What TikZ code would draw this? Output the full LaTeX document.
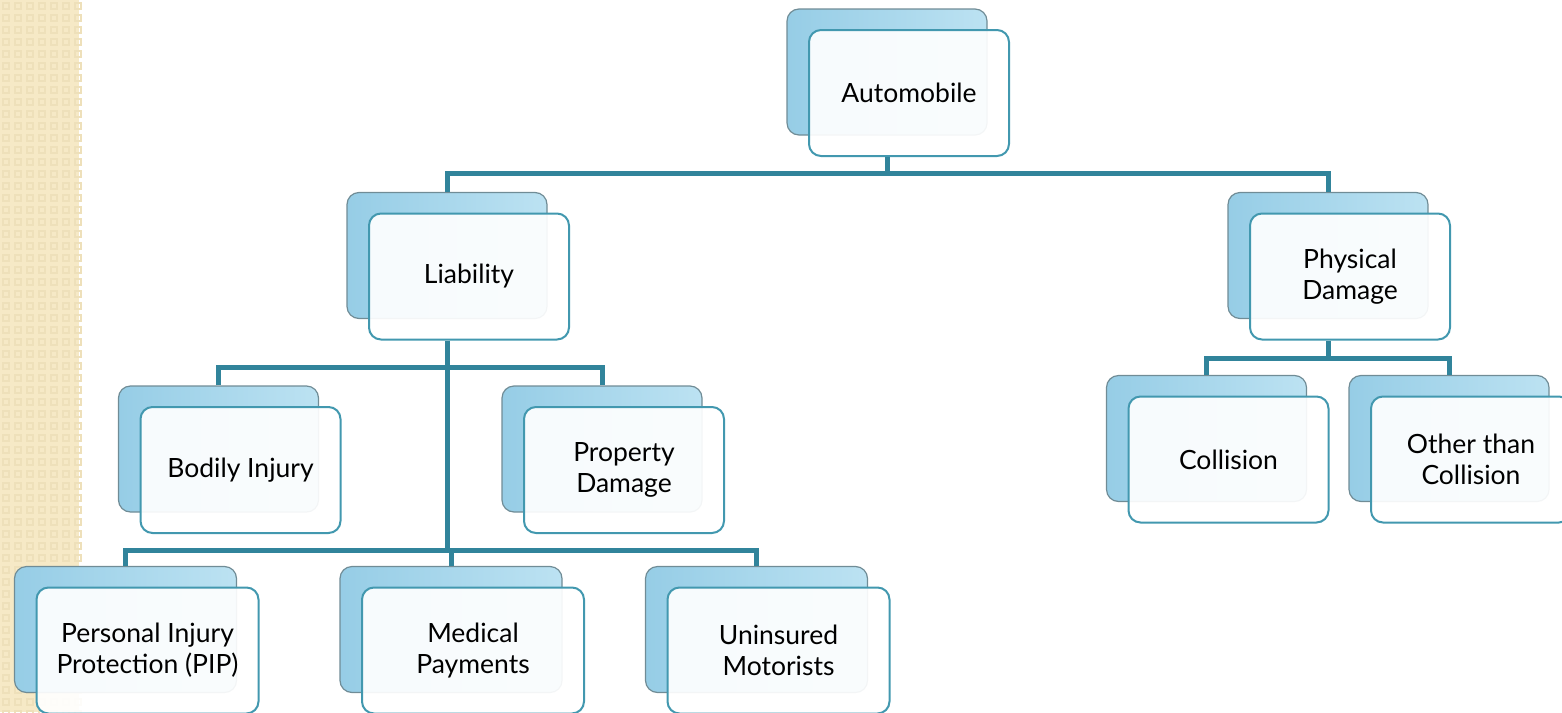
\documentclass[tikz,border=0pt]{standalone}
\usepackage{fontspec}
\setmainfont{Lato}
\definecolor{connc}{RGB}{49,132,155}
\definecolor{frontline}{RGB}{66,152,175}
\definecolor{backline}{RGB}{112,140,150}
\definecolor{backL}{RGB}{150,205,230}
\definecolor{backR}{RGB}{188,226,242}
\definecolor{beige}{RGB}{246,233,198}
\definecolor{beigeD}{RGB}{238,224,186}
\begin{document}
\begin{tikzpicture}[x=1pt,y=-1pt,
  backbox/.style={rectangle, rounded corners=12pt, draw=backline, line width=1.2pt,
    left color=backL, right color=backR, minimum width=#1, minimum height=126pt, inner sep=0pt},
  backbox/.default=200pt,
  frontbox/.style={rectangle, rounded corners=12pt, draw=frontline, line width=2pt,
    fill=white, fill opacity=0.92, text opacity=1, minimum width=#1, minimum height=126pt,
    align=center, font=\fontsize{26.5}{31}\selectfont, inner sep=0pt},
  frontbox/.default=200pt,
  connline/.style={draw=connc, line width=5pt}]
\useasboundingbox (0,0) rectangle (1562,712);
\clip (0,0) rectangle (1562,712);
% left decorative strip
\fill[beige] (0,0) rectangle (79,712);
\foreach \i in {0,...,6}{
  \foreach \j in {0,...,59}{
    \draw[beigeD, line width=1.5pt] (\i*12+3,\j*12+3) rectangle ++(6,6);
  }
}
% back boxes
\node[backbox] (autoB) at (887,72) {};
\node[backbox] (liabB) at (447,255.5) {};
\node[backbox] (physB) at (1328,255.5) {};
\node[backbox] (bodB) at (218.5,449) {};
\node[backbox] (propB) at (602,449) {};
\node[backbox] (collB) at (1206.5,438.5) {};
\node[backbox] (othB) at (1449,438.5) {};
\node[backbox=222pt] (pipB) at (125.5,629.5) {};
\node[backbox=222pt] (medB) at (451,629.5) {};
\node[backbox=222pt] (uninsB) at (756.5,629.5) {};
% front boxes
\node[frontbox] (auto) at (909,93) {Automobile};
\node[frontbox] (liab) at (469,276.5) {Liability};
\node[frontbox] (phys) at (1350,276.5) {Physical\\Damage};
\node[frontbox] (bod) at (240.5,470) {Bodily Injury};
\node[frontbox] (prop) at (624,470) {Property\\Damage};
\node[frontbox] (coll) at (1228.5,459.5) {Collision};
\node[frontbox] (oth) at (1471,459.5) {Other than\\Collision};
\node[frontbox=222pt] (pip) at (147.5,650.5) {Personal Injury\\Protection (PIP)};
\node[frontbox=222pt] (med) at (473,650.5) {Medical\\Payments};
\node[frontbox=222pt] (unins) at (778.5,650.5) {Uninsured\\Motorists};
% bar levels
\coordinate (barA) at (0,173);
\coordinate (barL) at (0,367);
\coordinate (barD) at (0,358);
\coordinate (barP) at (0,550);
% connectors
\draw[connline] (auto.south -| autoB) -- (barA -| autoB);
\draw[connline] (liabB.north) |- (barA -| autoB) -| (physB.north);
\draw[connline] (liab.south -| liabB) -- (barP -| liabB);
\draw[connline] (bodB.north) |- (barL -| liabB) -| (propB.north);
\draw[connline] (pipB.north) |- (barP -| liabB) -| (uninsB.north);
\draw[connline] (medB.north) -- (barP -| medB);
\draw[connline] (phys.south -| physB) -- (barD -| physB);
\draw[connline] (collB.north) |- (barD -| physB) -| (othB.north);
\end{tikzpicture}
\end{document}
